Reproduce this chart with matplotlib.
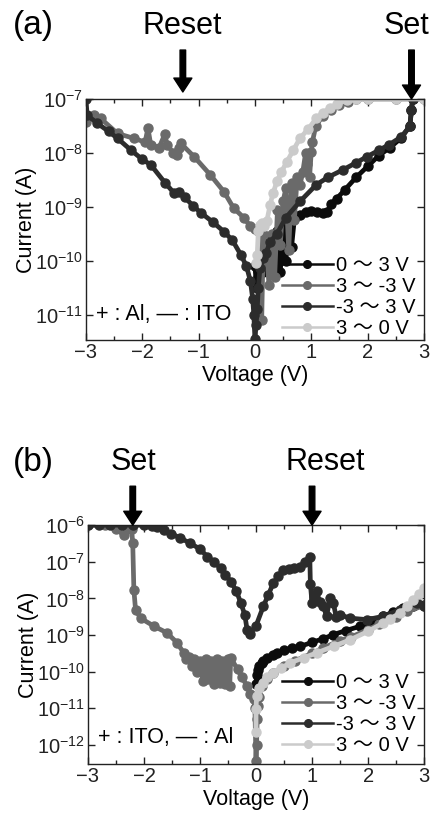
import matplotlib
matplotlib.use('Agg')
import matplotlib.pyplot as plt
from matplotlib.lines import Line2D
from matplotlib.ticker import MultipleLocator, NullLocator, FixedLocator
import numpy as np

plt.rcParams['font.family'] = ['Liberation Sans', 'Noto Sans CJK JP', 'DejaVu Sans']
plt.rcParams['mathtext.fontset'] = 'custom'
plt.rcParams['mathtext.rm'] = 'Liberation Sans'
plt.rcParams['mathtext.default'] = 'regular'

# ---- данные, панель (a): напряжение (В) и log10 тока (А) ----
a_03_v = [0.0, 0.03, 0.06, 0.1, 0.15, 0.2, 0.25, 0.3, 0.35, 0.4, 0.45, 0.5, 0.55, 0.6,
          0.65, 0.7, 0.8, 0.9, 1.0, 1.1, 1.2, 1.28, 1.35, 1.45, 1.6, 1.8, 2.0, 2.2,
          2.4, 2.6, 2.75, 2.78, 2.8]
a_03_lg = [-10.1, -10.5, -10.3, -10.05, -10.2, -9.85, -9.7, -9.55, -10.1, -9.45, -10.2,
           -9.4, -10.0, -9.3, -9.75, -9.22, -9.15, -9.1, -9.08, -9.1, -9.12, -9.1,
           -8.95, -8.85, -8.68, -8.45, -8.25, -8.05, -7.9, -7.72, -7.5, -7.2, -7.0]

a_3m3_v = [3.0, 2.5, 2.0, 1.8, 1.65, 1.5, 1.35, 1.2, 1.08, 1.02, 1.0, 0.97, 0.93, 0.9,
           0.85, 0.8, 0.75, 0.7, 0.65, 0.6, 0.55, 0.5, 0.45, 0.4, 0.35, 0.3, 0.25, 0.2,
           0.15, 0.12, 0.1, 0.05, 0.0, -0.08, -0.2, -0.38, -0.55, -0.79, -1.08, -1.32,
           -1.35, -1.38, -1.45, -1.56, -1.6, -1.7, -1.85, -1.9, -1.95, -2.15, -2.44,
           -2.74, -2.85, -3.0]
a_3m3_lg = [-7.0, -7.0, -7.0, -7.0, -7.05, -7.12, -7.2, -7.32, -7.5, -7.8, -7.98, -8.45,
            -8.2, -8.0, -8.35, -8.6, -8.45, -9.25, -8.55, -9.8, -8.65, -8.9, -9.7, -9.05,
            -10.3, -9.5, -10.45, -9.75, -9.5, -11.1, -9.45, -9.45, -9.42, -9.36, -9.2,
            -9.02, -8.72, -8.41, -8.07, -7.82, -7.9, -8.04, -8.0, -7.85, -7.65, -7.9,
            -7.85, -7.54, -7.8, -7.73, -7.64, -7.36, -7.3, -7.42]

a_m33_v = [-3.0, -2.98, -2.8, -2.6, -2.44, -2.2, -2.0, -1.85, -1.6, -1.44, -1.35, -1.25,
           -1.1, -0.96, -0.75, -0.55, -0.4, -0.25, -0.15, -0.08, -0.04, -0.02, 0.0, 0.02,
           0.04, 0.06, 0.09, 0.15, 0.2, 0.27, 0.39, 0.55, 0.8, 1.09, 1.3, 1.57, 1.8,
           1.99, 2.2, 2.38, 2.6, 2.75, 2.78, 2.8]
a_m33_lg = [-7.0, -7.3, -7.45, -7.6, -7.73, -7.95, -8.12, -8.22, -8.55, -8.74, -8.72,
            -8.82, -8.98, -9.11, -9.28, -9.46, -9.62, -9.89, -10.1, -10.38, -10.7, -11.0,
            -11.45, -11.2, -10.9, -10.5, -10.13, -9.95, -9.85, -9.65, -9.5, -9.2, -8.9,
            -8.59, -8.45, -8.31, -8.18, -8.07, -7.95, -7.85, -7.7, -7.51, -7.2, -7.0]

a_30_v = [3.0, 2.5, 2.0, 1.8, 1.63, 1.45, 1.33, 1.2, 1.09, 0.95, 0.8, 0.68, 0.57, 0.47,
          0.39, 0.32, 0.27, 0.21, 0.16, 0.12, 0.09, 0.06, 0.04, 0.02]
a_30_lg = [-7.0, -7.0, -7.0, -7.0, -7.02, -7.1, -7.17, -7.26, -7.36, -7.55, -7.73, -7.95,
           -8.16, -8.35, -8.53, -8.75, -8.96, -9.27, -9.35, -9.3, -9.33, -9.45, -9.9, -10.05]

# ---- данные, панель (b) ----
b_03_v = [0.0, 0.01, 0.03, 0.06, 0.1, 0.13, 0.2, 0.3, 0.37, 0.5, 0.65, 0.79, 1.0, 1.2,
          1.38, 1.6, 1.86, 2.05, 2.27, 2.45, 2.63, 2.8, 3.0]
b_03_lg = [-10.35, -10.1, -9.95, -9.85, -9.76, -9.7, -9.62, -9.55, -9.49, -9.42, -9.36,
           -9.31, -9.2, -9.1, -8.99, -8.88, -8.76, -8.63, -8.49, -8.37, -8.26, -8.2, -8.17]

b_3m3_v = [3.0, 2.7, 2.5, 2.2, 2.0, 1.7, 1.5, 1.2, 1.0, 0.7, 0.5, 0.3, 0.2, 0.1, 0.05,
           0.03, 0.02, 0.01, 0.0, -0.02, -0.04, -0.1, -0.16, -0.25, -0.33, -0.45, -0.47,
           -0.5, -0.55, -0.6, -0.65, -0.7, -0.75, -0.8, -0.85, -0.9, -0.95, -1.0, -1.05,
           -1.1, -1.15, -1.2, -1.25, -1.29, -1.41, -1.59, -1.82, -2.06, -2.15, -2.18,
           -2.2, -2.22, -2.3, -2.36, -2.5, -2.7, -3.0]
b_3m3_lg = [-8.2, -8.35, -8.5, -8.7, -8.85, -9.05, -9.15, -9.35, -9.5, -9.7, -9.85, -10.05,
            -10.2, -10.4, -10.7, -10.95, -11.3, -12.0, -12.45, -11.0, -10.76, -10.6, -10.4,
            -10.15, -9.94, -9.62, -10.4, -9.65, -10.35, -9.7, -10.3, -9.65, -10.35, -9.7,
            -10.2, -9.65, -10.25, -9.7, -10.0, -9.65, -9.85, -9.6, -9.65, -9.49, -9.21,
            -8.94, -8.76, -8.54, -8.31, -7.77, -6.5, -6.1, -6.1, -6.27, -6.1, -6.0, -6.0]

b_m33_v = [-3.0, -2.8, -2.6, -2.4, -2.2, -2.0, -1.85, -1.77, -1.65, -1.52, -1.35, -1.17,
           -1.0, -0.87, -0.75, -0.63, -0.55, -0.45, -0.35, -0.27, -0.2, -0.16, -0.1, 0.0,
           0.13, 0.22, 0.31, 0.4, 0.49, 0.58, 0.67, 0.79, 0.88, 0.96, 0.97, 1.0, 1.04,
           1.08, 1.14, 1.2, 1.26, 1.32, 1.38, 1.43, 1.5, 1.68, 1.98, 2.27, 2.57, 2.87, 3.0]
b_m33_lg = [-6.0, -6.0, -6.0, -6.0, -6.0, -6.0, -6.02, -6.05, -6.12, -6.23, -6.35, -6.5,
            -6.65, -6.86, -7.0, -7.18, -7.35, -7.54, -7.8, -8.13, -8.45, -8.85, -8.96,
            -8.75, -8.22, -7.9, -7.58, -7.4, -7.22, -7.2, -7.18, -7.13, -7.0, -6.86, -7.6,
            -8.13, -7.95, -7.81, -8.1, -8.2, -8.49, -8.0, -8.13, -8.5, -8.45, -8.54, -8.58,
            -8.49, -8.31, -8.13, -8.22]

b_30_v = [3.0, 2.9, 2.81, 2.7, 2.57, 2.4, 2.27, 2.0, 1.68, 1.4, 1.08, 0.85, 0.61, 0.45,
          0.31, 0.2, 0.13, 0.06, 0.01, 0.0, 0.0]
b_30_lg = [-7.72, -7.88, -8.04, -8.22, -8.4, -8.55, -8.67, -8.9, -9.13, -9.3, -9.49, -9.62,
           -9.76, -9.9, -10.03, -10.15, -10.3, -10.45, -10.67, -11.03, -11.65]

labels = ['0 ～ 3 V', '3 ～ -3 V', '-3 ～ 3 V', '3 ～ 0 V']
colors = ['#0c0c0c', '#6a6a6a', '#2c2c2c', '#cbcbcb']
x_ticks = [-3, -2, -1, 0, 1, 2, 3]

fig = plt.figure(figsize=(4.31, 8.18), dpi=100)


def draw_panel(ax, series, ylim, yticks, leg_anchor):
    for (v, lg), c in zip(series, colors):
        ax.plot(v, np.power(10.0, lg), '-', color=c, lw=3.4, marker='o', ms=6.5,
                mec=c, mfc=c, clip_on=True)
    ax.set_yscale('log')
    ax.set_xlim(-3, 3)
    ax.set_ylim(*ylim)
    ax.yaxis.set_major_locator(FixedLocator(yticks))
    ax.yaxis.set_minor_locator(NullLocator())
    ax.xaxis.set_major_locator(FixedLocator(x_ticks))
    ax.xaxis.set_minor_locator(MultipleLocator(0.5))
    ax.tick_params(which='both', direction='in', top=True, right=True,
                   labelsize=14.5, width=1, colors='#222222', pad=2)
    ax.tick_params(which='major', length=5)
    ax.tick_params(which='minor', length=3)
    for sp in ax.spines.values():
        sp.set_linewidth(1)
        sp.set_color('#222222')
    ax.set_xlabel('Voltage (V)', fontsize=15.5, labelpad=2)
    ax.set_ylabel('Current (A)', fontsize=15.5, labelpad=-1)
    handles = [Line2D([], [], color=c, lw=1.8, marker='o', ms=5.5) for c in colors]
    ax.legend(handles, labels, loc='lower right', bbox_to_anchor=leg_anchor,
              frameon=False, fontsize=14.5, handlelength=2.5, handletextpad=0.15,
              labelspacing=0.1, borderaxespad=0.0, borderpad=0.1)


def arrow(ax, v, y_tip, y_tail):
    ax.annotate('', xy=(v, y_tip), xytext=(v, y_tail),
                xycoords=('data', 'axes fraction'), textcoords=('data', 'axes fraction'),
                arrowprops=dict(facecolor='black', edgecolor='black', width=4,
                                headwidth=13, headlength=10, shrink=0),
                annotation_clip=False)


ax_a = fig.add_axes([0.1995, 0.5844, 0.784, 0.2946])
draw_panel(ax_a, [(a_03_v, a_03_lg), (a_3m3_v, a_3m3_lg), (a_m33_v, a_m33_lg), (a_30_v, a_30_lg)],
           (3.4e-12, 1e-7), [1e-11, 1e-10, 1e-9, 1e-8, 1e-7], (0.98, 0.0))
ax_a.text(0.03, 0.104, '+ : Al, — : ITO', transform=ax_a.transAxes, fontsize=15.5,
          ha='left', va='center')
arrow(ax_a, -1.28, 1.029, 1.203)
arrow(ax_a, 2.78, 1.0, 1.203)

ax_b = fig.add_axes([0.204, 0.066, 0.78, 0.292])
draw_panel(ax_b, [(b_03_v, b_03_lg), (b_3m3_v, b_3m3_lg), (b_m33_v, b_m33_lg), (b_30_v, b_30_lg)],
           (3e-13, 1e-6), [1e-12, 1e-11, 1e-10, 1e-9, 1e-8, 1e-7, 1e-6], (0.98, 0.03))
ax_b.text(0.03, 0.11, '+ : ITO, — : Al', transform=ax_b.transAxes, fontsize=15.5,
          ha='left', va='center')
arrow(ax_b, -2.2, 1.0, 1.163)
arrow(ax_b, 1.0, 1.0, 1.163)

fig.text(0.077, 0.969, '(a)', fontsize=24, ha='center', va='center')
fig.text(0.422, 0.968, 'Reset', fontsize=22, ha='center', va='center')
fig.text(0.944, 0.968, 'Set', fontsize=22, ha='center', va='center')
fig.text(0.077, 0.435, '(b)', fontsize=24, ha='center', va='center')
fig.text(0.309, 0.435, 'Set', fontsize=22, ha='center', va='center')
fig.text(0.754, 0.435, 'Reset', fontsize=22, ha='center', va='center')

fig.savefig('out.png', dpi=100)
